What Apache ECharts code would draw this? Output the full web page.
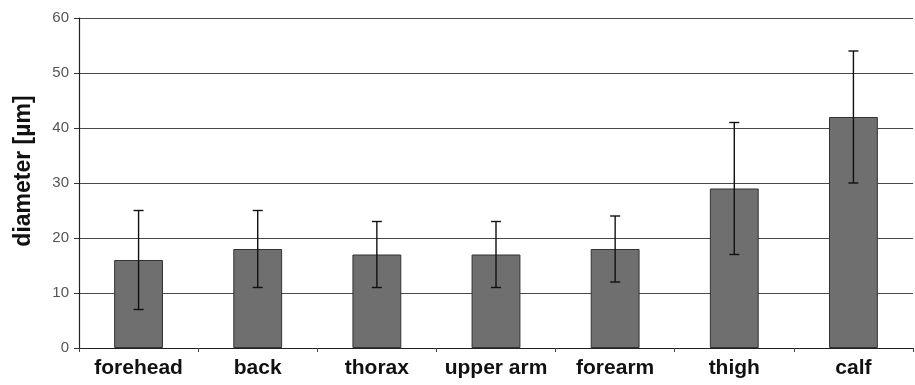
<!DOCTYPE html>
<html><head><meta charset="utf-8">
<script src="https://cdn.jsdelivr.net/npm/echarts@6/dist/echarts.min.js"></script>
<style>html,body{margin:0;padding:0;background:#fff}#c{width:915px;height:385px}</style>
</head><body><div id="c"></div>
<script>
const categories = ['forehead','back','thorax','upper arm','forearm','thigh','calf'];
const means = [16, 18, 17, 17, 18, 29, 42];
const errLow = [7, 11, 11, 11, 12, 17, 30];
const errHigh = [25, 25, 23, 23, 24, 41, 54];
const yTicks = [0, 10, 20, 30, 40, 50, 60];
const yName = 'diameter [µm]';

const chart = echarts.init(document.getElementById('c'));
chart.setOption({
  animation: false,
  grid: {left: 79, right: 2, top: 18, bottom: 37},
  graphic: [{
    type: 'text', x: 24, y: 171, rotation: Math.PI / 2,
    style: {text: yName, align: 'center', verticalAlign: 'middle', fill: '#111',
      font: 'bold 23px "Liberation Sans"'}
  }],
  xAxis: {
    type: 'category', data: categories,
    axisLine: {lineStyle: {color: '#222', width: 1.2}},
    axisTick: {show: true, length: 4, lineStyle: {color: '#444'}},
    axisLabel: {color: '#111', fontFamily: 'Liberation Sans', fontWeight: 'bold', fontSize: 21,
      margin: 10, interval: 0, hideOverlap: false}
  },
  yAxis: {
    type: 'value', min: yTicks[0], max: yTicks[yTicks.length-1], interval: 10,
    axisLine: {show: true, lineStyle: {color: '#222', width: 1.2}},
    axisTick: {show: true, length: 5, inside: false, lineStyle: {color: '#333'}},
    axisLabel: {color: '#555', fontFamily: 'Liberation Sans', fontSize: 15, margin: 10},
    splitLine: {lineStyle: {color: '#484848', width: 1}}
  },
  series: [{
    type: 'bar', data: means, barWidth: '41%',
    itemStyle: {color: '#6f6f6f', borderColor: '#333', borderWidth: 1}
  }, {
    type: 'custom',
    data: categories.map((c, i) => [i, errLow[i], errHigh[i]]),
    renderItem: function (params, api) {
      const x = api.value(0);
      const lo = api.coord([x, api.value(1)]);
      const hi = api.coord([x, api.value(2)]);
      const w = 5;
      const st = {stroke: '#111', lineWidth: 1.4};
      return {type: 'group', children: [
        {type: 'line', shape: {x1: hi[0], y1: hi[1], x2: lo[0], y2: lo[1]}, style: st},
        {type: 'line', shape: {x1: hi[0]-w, y1: hi[1], x2: hi[0]+w, y2: hi[1]}, style: st},
        {type: 'line', shape: {x1: lo[0]-w, y1: lo[1], x2: lo[0]+w, y2: lo[1]}, style: st}
      ]};
    },
    z: 10
  }]
});
</script></body></html>
